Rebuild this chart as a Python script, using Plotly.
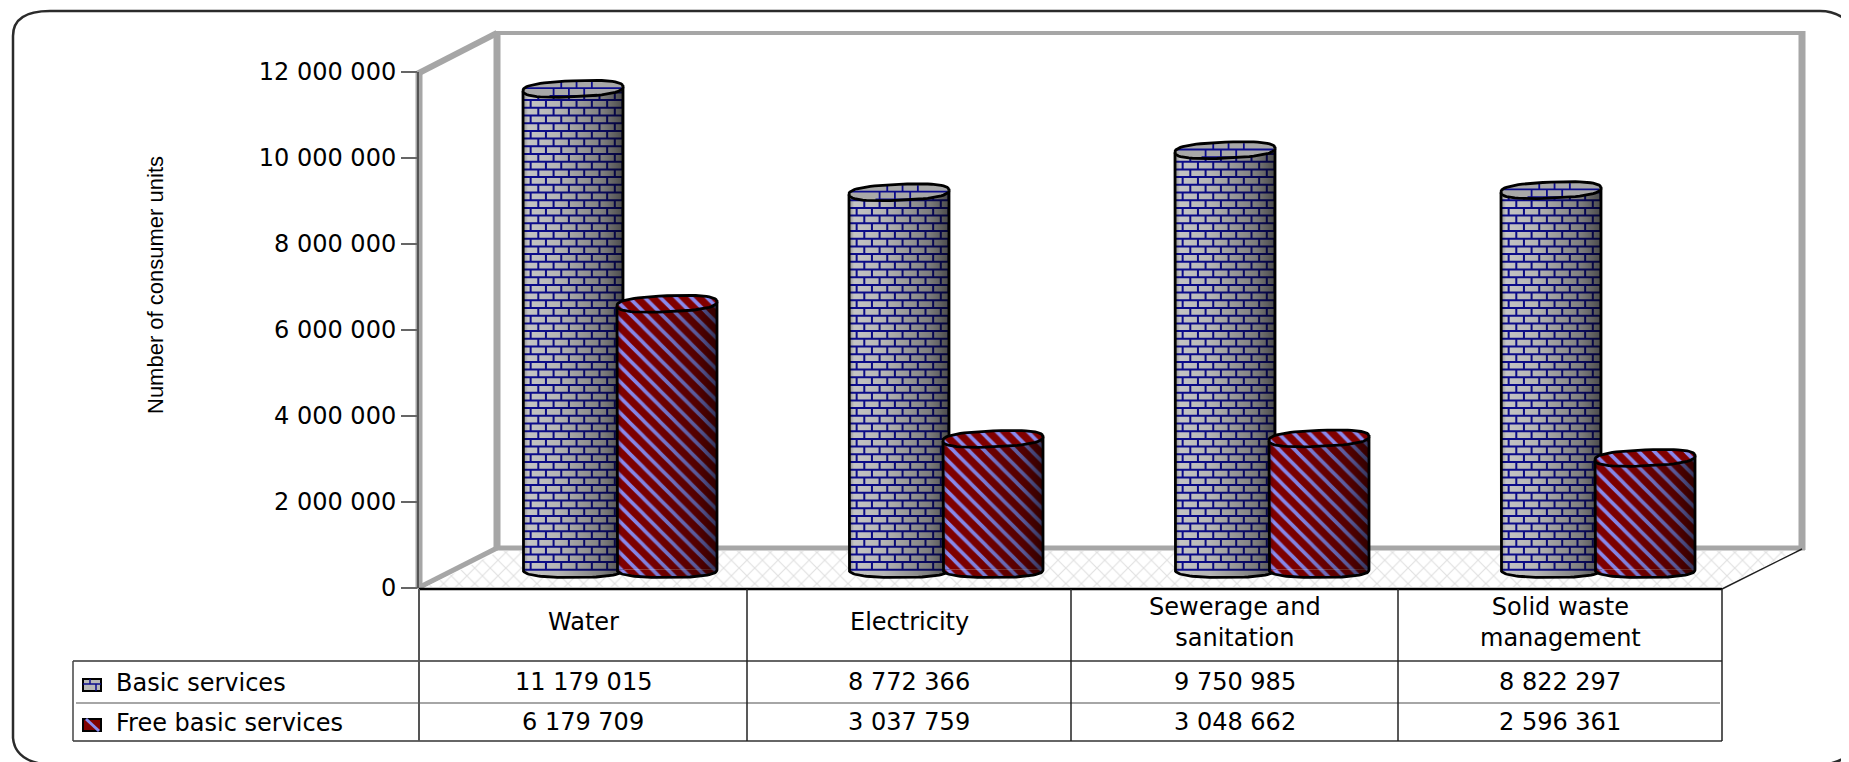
import math
import plotly.graph_objects as go

CATEGORIES = ["Water", "Electricity", "Sewerage and<br>sanitation", "Solid waste<br>management"]
BASIC = [11179015, 8772366, 9750985, 8822297]
FREE = [6179709, 3037759, 3048662, 2596361]
SERIES_NAMES = ["Basic services", "Free basic services"]
Y_TICKS = [0, 2000000, 4000000, 6000000, 8000000, 10000000, 12000000]
Y_TITLE = "Number of consumer units"

OFF = 8
W, H = 1841, 754
FONT = "DejaVu Sans"
GRAY = "#a6a6a6"

def fmt(v):
    return f"{v:,}".replace(",", " ")

def px(x):
    return (x - OFF) / W

def py(y):
    return 1 - (y - OFF) / H

PX_PER_M = 43.0
SLOT = 326.0
HW = 50.0
B = 8.0
TILT = 2.0
BASE_Y = 569.5
RED, BLUE = "#800000", "#8a8aee"
NAVY = "#0c0c8c"
BAR_W = 2 * HW / SLOT
BAR_SHIFT = 47.0 / SLOT

def xd(px_):
    return px_ / SLOT

def yd(py_):
    return py_ / PX_PER_M * 1e6

def slot_domain():
    left = 620 - SLOT / 2
    return [px(left), px(left + 4 * SLOT)]

def y_domain():
    return [py(BASE_Y + 0.5 * PX_PER_M), py(BASE_Y - 12.5 * PX_PER_M)]

HIDDEN = dict(visible=False, fixedrange=True)
layout_axes = dict(
    xaxis=dict(domain=[0, 1], range=[OFF, OFF + W], **HIDDEN),
    yaxis=dict(domain=[0, 1], range=[OFF + H, OFF], **HIDDEN),
    xaxis2=dict(domain=slot_domain(), range=[-0.5, 3.5], anchor="y2", **HIDDEN),
    yaxis2=dict(domain=y_domain(), range=[-0.5e6, 12.5e6], anchor="x2", **HIDDEN),
    xaxis3=dict(domain=slot_domain(), range=[-0.5, 3.5], anchor="y3", **HIDDEN),
    yaxis3=dict(domain=y_domain(), range=[-0.5e6, 12.5e6], anchor="x3", **HIDDEN),
    xaxis4=dict(domain=[px(419), px(1722)], range=[-0.5, 3.5], anchor="y4", **HIDDEN),
    yaxis4=dict(
        domain=[py(588), py(72)], range=[0, 12e6], anchor="x4", fixedrange=True,
        tickvals=Y_TICKS, ticktext=[fmt(v) for v in Y_TICKS],
        tickfont=dict(family=FONT, size=24, color="#000"),
        ticks="outside", ticklen=16, tickwidth=2, tickcolor="#666",
        showline=True, linecolor="#555", linewidth=2, showgrid=False, zeroline=False,
    ),
)

def spow(v, e=0.8):
    return math.copysign(abs(v) ** e, v)

def ellipse_hw(y, b):
    return HW * math.sqrt(max(0.0, 1 - (y / b) ** 2))

def brick_lines(cx, y0, y1, clip):
    """Mortar lines between y0 and y1 (px above the base) clipped by clip(y)->half width."""
    xs, ys = [], []
    step_y, step_x = 7.7, 15.3
    rows = int((y1 - y0) / step_y) + 1
    for r in range(rows):
        yb = y0 + r * step_y
        ye = min(yb + step_y, y1)
        hw = clip(yb)
        xs += [cx + xd(-hw), cx + xd(hw), None]
        ys += [yd(yb), yd(yb), None]
        hw2 = min(hw, clip(ye))
        x = -HW + (r % 2) * step_x / 2
        while x < HW:
            if abs(x) < hw2:
                xs += [cx + xd(x), cx + xd(x), None]
                ys += [yd(yb), yd(ye), None]
            x += step_x
    return xs, ys

def lower(cx):
    xs, ys = [], []
    for i in range(41):
        t = math.pi + math.pi * i / 40
        xs.append(cx + xd(HW * spow(math.cos(t))))
        ys.append(yd(B * spow(math.sin(t))))
    return xs, ys

def silhouette(cx, val):
    lx, ly = lower(cx)
    xs = [cx - xd(HW)] + lx + [cx + xd(HW), cx - xd(HW)]
    ys = [val - yd(TILT)] + ly + [val + yd(TILT), val - yd(TILT)]
    return xs, ys

def cap(cx, val):
    xs, ys = [], []
    for i in range(61):
        t = 2 * math.pi * i / 60
        c = spow(math.cos(t))
        xs.append(cx + xd(HW * c))
        ys.append(val + yd(B * spow(math.sin(t)) + TILT * c))
    return xs, ys

SHADE = dict(type="horizontal", colorscale=[
    [0, "rgba(0,0,0,0.30)"], [0.05, "rgba(0,0,0,0)"], [0.35, "rgba(0,0,0,0.08)"],
    [0.8, "rgba(0,0,0,0.36)"], [1, "rgba(0,0,0,0.62)"]])
OUTLINE = dict(color="#000", width=2.8)
STRIPES = dict(shape="\\", fgcolor=BLUE, bgcolor=RED, size=11, solidity=0.33, fillmode="replace")

traces = []
deco = dict(mode="lines", hoverinfo="skip", showlegend=False)

# floor
traces.append(go.Scatter(
    x=[426, 500, 1796, 1722, 426], y=[587, 551, 551, 587, 587], xaxis="x", yaxis="y",
    fill="toself", mode="none", hoverinfo="skip", showlegend=False,
    fillcolor="white",
    fillpattern=dict(shape="x", fgcolor="#c2c2c2", bgcolor="white", size=11, solidity=0.2)))

# value-axis carrier
traces.append(go.Scatter(x=[0], y=[0], xaxis="x4", yaxis="y4", mode="none",
                         hoverinfo="skip", showlegend=False))

# Basic series
traces.append(go.Bar(name=SERIES_NAMES[0], x=list(range(4)), y=BASIC, width=BAR_W,
                     offset=-BAR_SHIFT - BAR_W / 2, xaxis="x2", yaxis="y2", showlegend=False,
                     marker=dict(color="#c4c4c4", line=dict(width=0))))
for i, v in enumerate(BASIC):
    cx = i - BAR_SHIFT
    sx, sy = lower(cx)
    traces.append(go.Scatter(x=sx + [sx[0]], y=sy + [sy[0]], xaxis="x2", yaxis="y2", fill="toself",
                             fillcolor="#c4c4c4", line=dict(width=0), **deco))
    lx, ly = brick_lines(cx, -B, v / 1e6 * PX_PER_M,
                         lambda y: ellipse_hw(y, B) if y < 0 else HW)
    traces.append(go.Scatter(x=lx, y=ly, xaxis="x2", yaxis="y2",
                             line=dict(color=NAVY, width=2), **deco))
    sx, sy = silhouette(cx, v)
    traces.append(go.Scatter(x=sx, y=sy, xaxis="x2", yaxis="y2", fill="toself",
                             fillgradient=SHADE, line=OUTLINE, **deco))
    sx, sy = cap(cx, v)
    traces.append(go.Scatter(x=sx, y=sy, xaxis="x2", yaxis="y2", fill="toself",
                             fillcolor="#a8a8a8", line=dict(width=0), **deco))
    lx, ly = brick_lines(cx, -B + 1, B - 1, lambda y: ellipse_hw(y, B) * 0.97)
    ly = [None if a is None else a + v for a in ly]
    traces.append(go.Scatter(x=lx, y=ly, xaxis="x2", yaxis="y2",
                             line=dict(color=NAVY, width=1.8), **deco))
    traces.append(go.Scatter(x=sx, y=sy, xaxis="x2", yaxis="y2", line=OUTLINE, **deco))

# Free series
traces.append(go.Bar(name=SERIES_NAMES[1], x=list(range(4)), y=FREE, width=BAR_W,
                     offset=BAR_SHIFT - BAR_W / 2, xaxis="x3", yaxis="y3", showlegend=False,
                     marker=dict(color=RED, pattern=STRIPES, line=dict(width=0))))
for i, v in enumerate(FREE):
    cx = i + BAR_SHIFT
    sx, sy = lower(cx)
    traces.append(go.Scatter(x=sx + [sx[0]], y=sy + [sy[0]], xaxis="x3", yaxis="y3", fill="toself",
                             fillcolor=RED, fillpattern=STRIPES, line=dict(width=0), **deco))
    sx, sy = silhouette(cx, v)
    traces.append(go.Scatter(x=sx, y=sy, xaxis="x3", yaxis="y3", fill="toself",
                             fillgradient=SHADE, line=OUTLINE, **deco))
    sx, sy = cap(cx, v)
    traces.append(go.Scatter(x=sx, y=sy, xaxis="x3", yaxis="y3", fill="toself",
                             fillcolor=RED, fillpattern=STRIPES, line=OUTLINE, **deco))

def seg(x0, y0, x1, y1, color, width, layer="below"):
    return dict(type="line", xref="paper", yref="paper", x0=px(x0), y0=py(y0), x1=px(x1), y1=py(y1),
                line=dict(color=color, width=width), layer=layer)

def rect(x0, y0, x1, y1, fill, line="#000", width=2):
    return dict(type="rect", xref="paper", yref="paper", x0=px(x0), y0=py(y0), x1=px(x1), y1=py(y1),
                fillcolor=fill, line=dict(color=line, width=width), layer="above")

def P(x, y):
    return f"{px(x):.5f} {py(y):.5f}"

border = (f"M {P(13,36)} Q {P(13,11)} {P(50,11)} L {P(1820,11)} Q {P(1840,11)} {P(1853,27)} "
          f"L {P(1858,40)} L {P(1858,735)} Q {P(1853,765)} {P(1815,765)} L {P(50,765)} "
          f"Q {P(15,762)} {P(13,738)} Z")

shapes = [
    dict(type="path", path=border, xref="paper", yref="paper",
         line=dict(color="#2b2b2b", width=2.5), fillcolor="white", layer="below"),
    seg(419, 72, 419, 589, GRAY, 7),
    seg(417, 74, 497, 33, GRAY, 6),
    seg(420, 587, 497, 548, GRAY, 5),
    seg(497, 33, 497, 550, GRAY, 7),
    seg(494, 33, 1805, 33, GRAY, 4),
    seg(1802, 31, 1802, 550, GRAY, 7),
    seg(497, 548, 1805, 548, GRAY, 5),
    seg(1722, 589, 1802, 549, "#222", 1.5),
    seg(419, 589, 1722, 589, "#000", 2.5, "above"),
    seg(73, 661, 1722, 661, "#666", 2, "above"),
    seg(76, 703, 1720, 703, "#888", 1.5, "above"),
    seg(73, 741, 1722, 741, "#666", 2, "above"),
    seg(73, 661, 73, 741, "#444", 1.5, "above"),
    seg(419, 589, 419, 741, "#555", 2, "above"),
    seg(747, 589, 747, 741, "#222", 1.5, "above"),
    seg(1071, 589, 1071, 741, "#222", 1.5, "above"),
    seg(1398, 589, 1398, 741, "#222", 1.5, "above"),
    seg(1722, 589, 1722, 741, "#222", 1.5, "above"),
    rect(83, 679, 101, 691, "#b8b8b8"),
    seg(83, 684, 101, 684, NAVY, 1.5, "above"),
    seg(90, 679, 90, 684, NAVY, 1.5, "above"),
    seg(96, 684, 96, 691, NAVY, 1.5, "above"),
    rect(83, 719, 101, 731, RED),
    seg(86, 719, 99, 731, BLUE, 3, "above"),
]

def note(text, x, y, anchor="center", size=24, family=FONT, angle=0):
    return dict(text=text, x=px(x), y=py(y), xref="paper", yref="paper", xanchor=anchor,
                yanchor="middle", showarrow=False, textangle=angle,
                font=dict(family=family, size=size, color="#000"))

centres = [583, 909, 1234.5, 1560]
annotations = [note(Y_TITLE, 155, 285, size=22, family="Liberation Sans", angle=-90)]
for c, cat, b, f in zip(centres, CATEGORIES, BASIC, FREE):
    annotations.append(note(cat, c, 622))
    annotations.append(note(fmt(b), c, 682))
    annotations.append(note(fmt(f), c, 722))
annotations.append(note(SERIES_NAMES[0], 114, 683, "left"))
annotations.append(note(SERIES_NAMES[1], 114, 723, "left"))

fig = go.Figure(traces)
fig.update_layout(
    width=W, height=H, margin=dict(l=0, r=0, t=0, b=0, pad=0, autoexpand=False),
    paper_bgcolor="white", plot_bgcolor="rgba(0,0,0,0)",
    barmode="overlay", showlegend=False, shapes=shapes, annotations=annotations,
    **layout_axes)
fig.write_html("out.html", config=dict(displayModeBar=False))
